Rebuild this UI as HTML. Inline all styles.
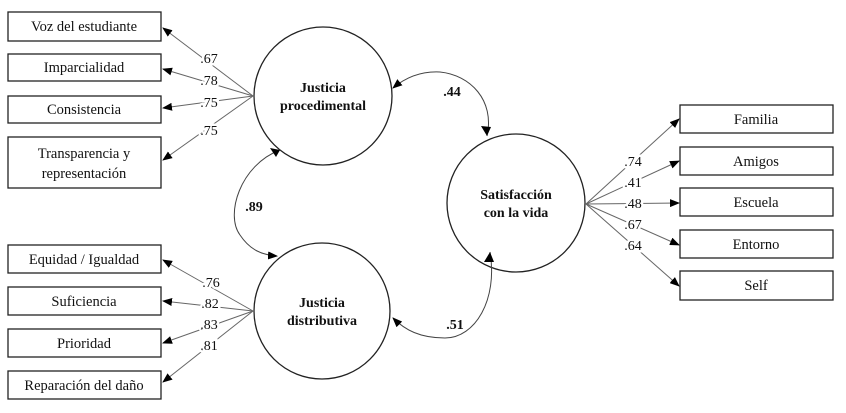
<!DOCTYPE html><html><head><meta charset="utf-8"><style>body{margin:0;background:#fff}svg{display:block}text{font-family:"Liberation Serif",serif;fill:#111}</style></head><body>
<svg width="846" height="413" viewBox="0 0 846 413">
<defs><marker id="a" markerWidth="10" markerHeight="8" refX="9" refY="4" orient="auto" markerUnits="userSpaceOnUse"><path d="M0,0L10,4L0,8z" fill="#000"/></marker></defs>
<g fill="#fff" stroke="#222" stroke-width="1.3">
<rect x="8" y="12" width="153" height="29"/><rect x="8" y="54" width="153" height="27"/><rect x="8" y="96" width="153" height="27"/><rect x="8" y="137" width="153" height="51"/>
<rect x="8" y="245" width="153" height="28"/><rect x="8" y="287" width="153" height="28"/><rect x="8" y="329" width="153" height="28"/><rect x="8" y="371" width="153" height="28"/>
<rect x="680" y="105" width="153" height="28"/><rect x="680" y="147" width="153" height="28"/><rect x="680" y="188" width="153" height="28"/><rect x="680" y="230" width="153" height="28"/><rect x="680" y="271" width="153" height="29"/>
<circle cx="323" cy="96" r="69"/><circle cx="322" cy="311" r="68"/><circle cx="516" cy="203" r="69"/>
</g>
<g stroke="#666" stroke-width="1" fill="none" marker-end="url(#a)">
<line x1="253" y1="96" x2="163" y2="28"/><line x1="253" y1="96" x2="163" y2="69"/><line x1="253" y1="96" x2="163" y2="108"/><line x1="253" y1="96" x2="163" y2="160"/>
<line x1="253" y1="311" x2="163" y2="260"/><line x1="253" y1="311" x2="163" y2="301"/><line x1="253" y1="311" x2="163" y2="343"/><line x1="253" y1="311" x2="163" y2="382"/>
<line x1="586" y1="204" x2="679" y2="119"/><line x1="586" y1="204" x2="679" y2="161"/><line x1="586" y1="204" x2="679" y2="203"/><line x1="586" y1="204" x2="679" y2="245"/><line x1="586" y1="204" x2="679" y2="286"/>
</g>
<g stroke="#444" stroke-width="1" fill="none">
<path d="M487,136 C495,100 470,75 440,72 C420,71 405,78 393,88" marker-end="url(#a)"/>
<path d="M280,150 C240,165 225,215 240,235 C250,250 262,255 277,256" marker-end="url(#a)"/>
<path d="M490,252 C498,300 475,338 445,338 C420,338 405,330 393,318" marker-end="url(#a)"/>
</g>
<path d="M487,136 L481,126 L491,127z" fill="#000"/>
<path d="M280,150 L270,148 L276,157z" fill="#000"/>
<path d="M490,252 L484,262 L494,262z" fill="#000"/>
<g font-size="14" text-anchor="middle" stroke="#fff" stroke-width="5" paint-order="stroke">
<text x="209" y="63">.67</text><text x="209" y="85">.78</text><text x="209" y="107">.75</text><text x="209" y="135">.75</text>
<text x="211" y="287">.76</text><text x="210" y="308">.82</text><text x="209" y="329">.83</text><text x="209" y="350">.81</text>
<text x="633" y="166">.74</text><text x="633" y="187">.41</text><text x="633" y="208">.48</text><text x="633" y="229">.67</text><text x="633" y="250">.64</text>
</g>
<g font-size="14" text-anchor="middle" font-weight="bold">
<text x="452" y="96">.44</text><text x="254" y="211">.89</text><text x="455" y="329">.51</text>
<text x="323" y="92">Justicia</text><text x="323" y="110">procedimental</text>
<text x="322" y="307">Justicia</text><text x="322" y="325">distributiva</text>
<text x="516" y="199">Satisfacción</text><text x="516" y="217">con la vida</text>
</g>
<g font-size="14.5" text-anchor="middle">
<text x="84" y="31">Voz del estudiante</text><text x="84" y="72">Imparcialidad</text><text x="84" y="114">Consistencia</text><text x="84" y="158">Transparencia y</text><text x="84" y="178">representación</text>
<text x="84" y="264">Equidad / Igualdad</text><text x="84" y="306">Suficiencia</text><text x="84" y="348">Prioridad</text><text x="84" y="390">Reparación del daño</text>
<text x="756" y="124">Familia</text><text x="756" y="166">Amigos</text><text x="756" y="207">Escuela</text><text x="756" y="249">Entorno</text><text x="756" y="290">Self</text>
</g>
</svg></body></html>
